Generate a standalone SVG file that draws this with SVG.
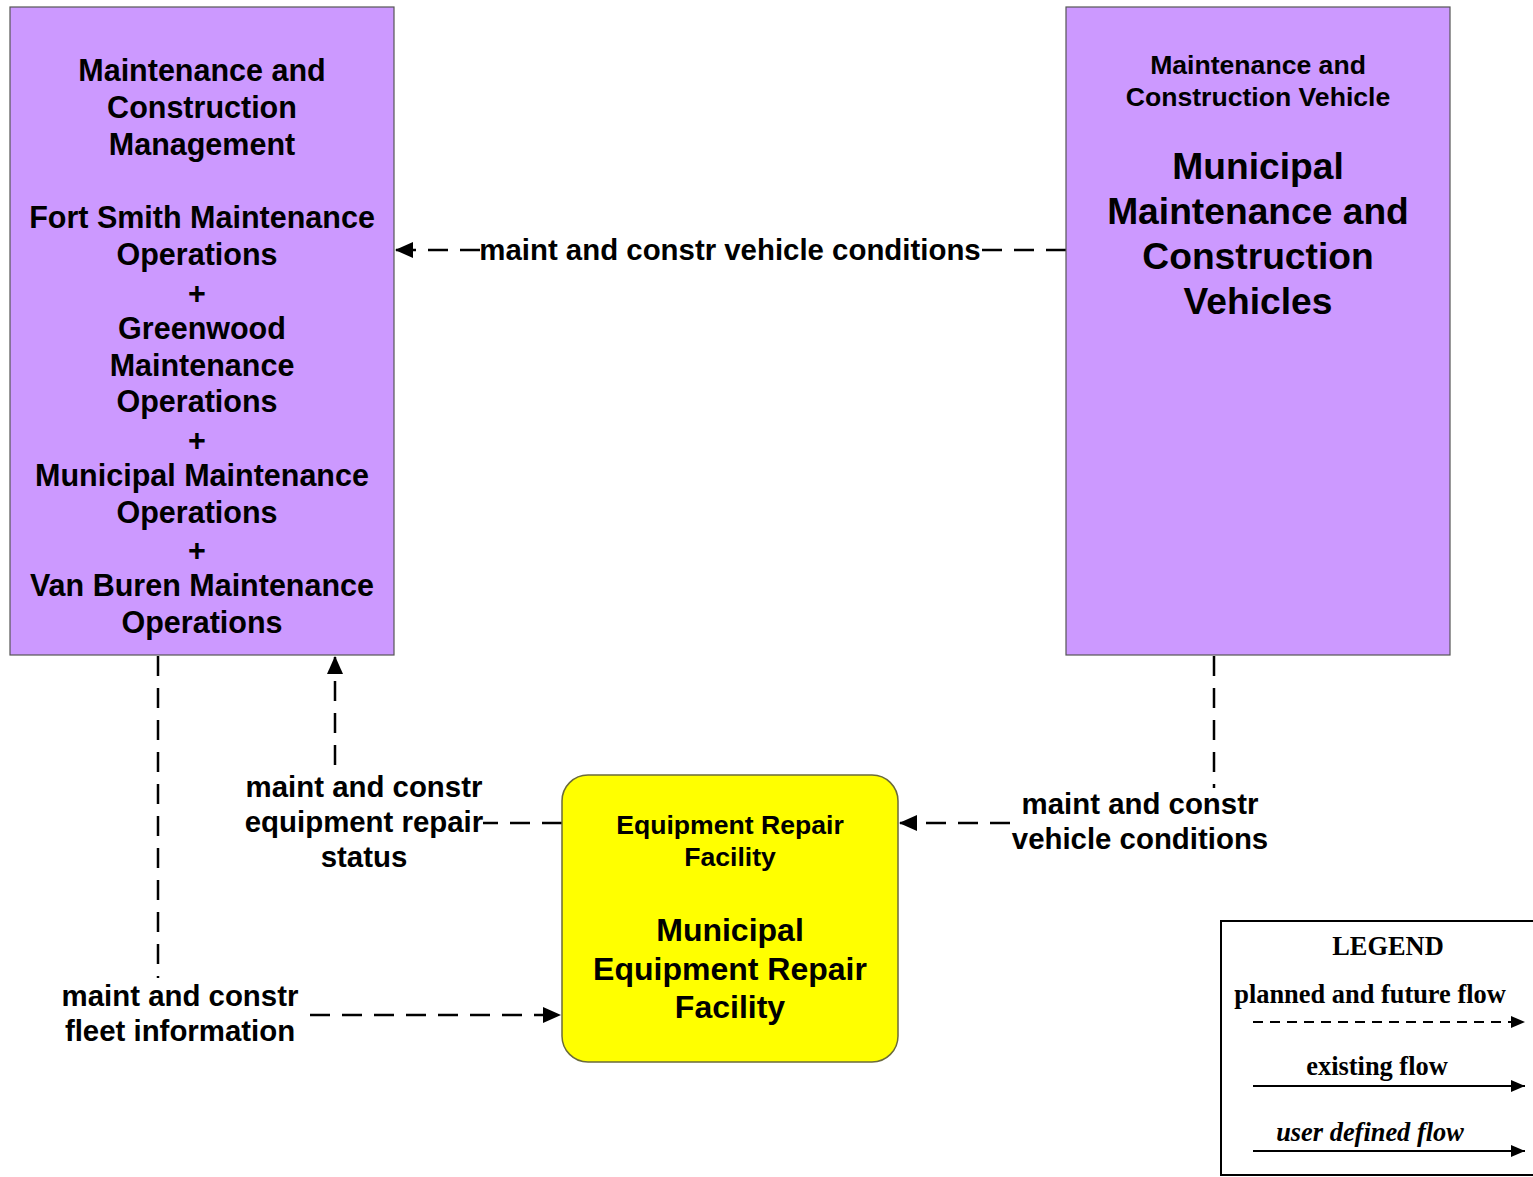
<svg xmlns="http://www.w3.org/2000/svg" width="1533" height="1177" viewBox="0 0 1533 1177">
<style>
.box{fill:#CC99FF;stroke:#555;stroke-width:1.2}
.yel{fill:#FFFF00;stroke:#6b6b3a;stroke-width:1.5}
text{font-family:"Liberation Sans",Arial,sans-serif;font-weight:bold;fill:#000;text-anchor:middle}
.t30{font-size:30.5px}
.t26{font-size:26.6px}
.t37{font-size:37.2px}
.t32{font-size:32px}
.lbl{font-size:29.4px}
.flow{fill:none;stroke:#000;stroke-width:2.5;stroke-dasharray:20 12}
.lg{font-family:"Liberation Serif","Times New Roman",serif;font-size:26.4px}
</style>
<defs>
<marker id="ah" markerWidth="18" markerHeight="16" refX="17" refY="8" orient="auto" markerUnits="userSpaceOnUse">
<path d="M0,0 L18,8 L0,16 Z" fill="#000"/>
</marker>
<marker id="ahs" markerWidth="14" markerHeight="12" refX="14" refY="6" orient="auto" markerUnits="userSpaceOnUse">
<path d="M0,0 L14,6 L0,12 Z" fill="#000"/>
</marker>
</defs>
<rect width="1533" height="1177" fill="#fff"/>

<g id="connectors">
<line class="flow" x1="1066" y1="250" x2="982" y2="250"/>
<line class="flow" x1="480" y1="250" x2="396" y2="250" marker-end="url(#ah)"/>
<text class="lbl" x="730" y="260">maint and constr vehicle conditions</text>

<line class="flow" x1="1214" y1="656" x2="1214" y2="788"/>
<line class="flow" x1="1010" y1="823" x2="900" y2="823" marker-end="url(#ah)"/>
<text class="lbl" x="1140" y="814">maint and constr</text>
<text class="lbl" x="1140" y="849">vehicle conditions</text>

<line class="flow" x1="562" y1="823" x2="483" y2="823"/>
<line class="flow" x1="335" y1="765" x2="335" y2="657" marker-end="url(#ah)"/>
<text class="lbl" x="364" y="797">maint and constr</text>
<text class="lbl" x="364" y="832">equipment repair</text>
<text class="lbl" x="364" y="867">status</text>

<line class="flow" x1="158" y1="656" x2="158" y2="978"/>
<line class="flow" x1="310" y1="1015" x2="560" y2="1015" marker-end="url(#ah)"/>
<text class="lbl" x="180" y="1006">maint and constr</text>
<text class="lbl" x="180" y="1041">fleet information</text>
</g>

<g id="node-mcm">
<rect class="box" x="10" y="7" width="384" height="648"/>
<text class="t30" x="202" y="81">Maintenance and</text>
<text class="t30" x="202" y="118">Construction</text>
<text class="t30" x="202" y="155">Management</text>
<text class="t30" x="202" y="228">Fort Smith Maintenance</text>
<text class="t30" x="197" y="265">Operations</text>
<text class="t30" x="197" y="304">+</text>
<text class="t30" x="202" y="339">Greenwood</text>
<text class="t30" x="202" y="376">Maintenance</text>
<text class="t30" x="197" y="412">Operations</text>
<text class="t30" x="197" y="451">+</text>
<text class="t30" x="202" y="486">Municipal Maintenance</text>
<text class="t30" x="197" y="523">Operations</text>
<text class="t30" x="197" y="561">+</text>
<text class="t30" x="202" y="596">Van Buren Maintenance</text>
<text class="t30" x="202" y="633">Operations</text>
</g>

<g id="node-mcv">
<rect class="box" x="1066" y="7" width="384" height="648"/>
<text class="t26" x="1258" y="74">Maintenance and</text>
<text class="t26" x="1258" y="106">Construction Vehicle</text>
<text class="t37" x="1258" y="179">Municipal</text>
<text class="t37" x="1258" y="224">Maintenance and</text>
<text class="t37" x="1258" y="269">Construction</text>
<text class="t37" x="1258" y="314">Vehicles</text>
</g>

<g id="node-erf">
<rect class="yel" x="562" y="775" width="336" height="287" rx="26" ry="26"/>
<text class="t26" x="730" y="834">Equipment Repair</text>
<text class="t26" x="730" y="866">Facility</text>
<text class="t32" x="730" y="941">Municipal</text>
<text class="t32" x="730" y="980">Equipment Repair</text>
<text class="t32" x="730" y="1018">Facility</text>
</g>

<g id="legend">
<rect x="1221" y="921" width="330" height="254" fill="#fff" stroke="#000" stroke-width="2"/>
<text class="lg" x="1388" y="955">LEGEND</text>
<text class="lg" x="1370" y="1003">planned and future flow</text>
<line x1="1253" y1="1022" x2="1525" y2="1022" stroke="#000" stroke-width="2" stroke-dasharray="10 7" marker-end="url(#ahs)"/>
<text class="lg" x="1377" y="1075">existing flow</text>
<line x1="1253" y1="1086" x2="1525" y2="1086" stroke="#000" stroke-width="2" marker-end="url(#ahs)"/>
<text class="lg" x="1370" y="1141" font-style="italic">user defined flow</text>
<line x1="1253" y1="1151" x2="1525" y2="1151" stroke="#000" stroke-width="2" marker-end="url(#ahs)"/>
</g>
</svg>
